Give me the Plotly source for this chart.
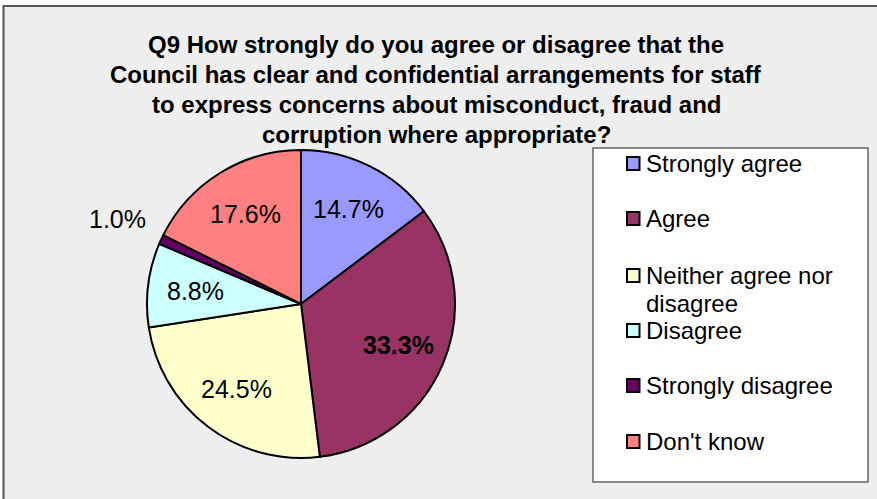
import math
import plotly.graph_objects as go

W, H = 877, 499

# Survey responses (percent of respondents)
categories = ["Strongly agree", "Agree", "Neither agree nor disagree",
              "Disagree", "Strongly disagree", "Don't know"]
percentages = [14.7, 33.3, 24.5, 8.8, 1.0, 17.6]
slice_colors = ["#9999FF", "#993366", "#FFFFCC", "#CCFFFF", "#660066", "#FF8080"]

title_lines = [
    "Q9 How strongly do you agree or disagree that the",
    "Council has clear and confidential arrangements for staff",
    "to express concerns about misconduct, fraud and",
    "corruption where appropriate?",
]

FONT = "Liberation Sans, Arial, sans-serif"


def px(x):
    return x / W


def py(y):
    return 1 - y / H


# pie geometry in pixels
CX, CY, R = 301, 304, 154

fig = go.Figure()
fig.add_trace(go.Pie(
    labels=categories,
    values=percentages,
    sort=False,
    direction="clockwise",
    rotation=0,
    marker=dict(colors=slice_colors, line=dict(color="black", width=2)),
    textinfo="none",
    showlegend=False,
    hoverinfo="label+percent",
    domain=dict(x=[px(CX - R), px(CX + R)], y=[py(CY + R), py(CY - R)]),
))

shapes = [
    # chart area panel
    dict(type="rect", xref="paper", yref="paper",
         x0=px(3.5), x1=px(900), y0=py(6), y1=py(520),
         fillcolor="#EEEEEE", line=dict(color="#555555", width=2), layer="below"),
    # legend box
    dict(type="rect", xref="paper", yref="paper",
         x0=px(593), x1=px(868), y0=py(148), y1=py(482),
         fillcolor="white", line=dict(color="#666666", width=1.5), layer="below"),
]

annotations = []

# slice value labels, placed along each slice's bisector
total = sum(percentages)
max_val = max(percentages)
cum = 0.0
for v in percentages:
    mid = (cum + v / 2) / total * 2 * math.pi
    cum += v
    dist = R * (1.31 if v < 2 else 0.69)
    lx = CX + dist * math.sin(mid)
    ly = CY - dist * math.cos(mid)
    txt = "%.1f%%" % v
    if v == max_val:
        txt = "<b>%s</b>" % txt
    annotations.append(dict(
        text=txt, xref="paper", yref="paper",
        x=px(lx), y=py(ly), xanchor="center", yanchor="middle",
        showarrow=False, font=dict(family=FONT, size=25, color="black"),
    ))

title_y = [44.5, 74.5, 104.5, 135]
for line, ty in zip(title_lines, title_y):
    annotations.append(dict(
        text="<b>%s</b>" % line, xref="paper", yref="paper",
        x=px(436), y=py(ty), xanchor="center", yanchor="middle",
        showarrow=False, font=dict(family=FONT, size=24, color="black"),
    ))

# legend entries (long label wraps onto a second line)
legend_y = [163, 218, 275, 330, 385, 441]
LINE_GAP = 28
for name, col, ly in zip(categories, slice_colors, legend_y):
    shapes.append(dict(
        type="rect", xref="paper", yref="paper",
        x0=px(627), x1=px(639.5), y0=py(ly + 7), y1=py(ly - 6),
        fillcolor=col, line=dict(color="black", width=2),
    ))
    for k, part in enumerate(name.replace(" nor ", " nor\n").split("\n")):
        annotations.append(dict(
            text=part, xref="paper", yref="paper",
            x=px(644), y=py(ly + k * LINE_GAP), xanchor="left", yanchor="middle",
            showarrow=False, font=dict(family=FONT, size=24, color="black"),
        ))

fig.update_layout(
    width=W, height=H,
    margin=dict(l=0, r=0, t=0, b=0),
    paper_bgcolor="white",
    plot_bgcolor="white",
    shapes=shapes,
    annotations=annotations,
)

fig.write_html("out.html")
